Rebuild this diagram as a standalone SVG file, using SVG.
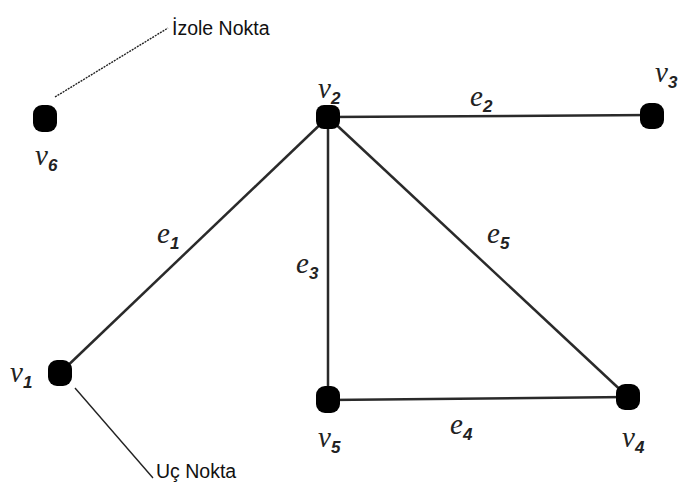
<svg xmlns="http://www.w3.org/2000/svg" width="681" height="496" viewBox="0 0 681 496">
<style>
.edge{stroke:#2a2a2a;stroke-width:2.5;fill:none}
.lead{stroke:#222;stroke-width:1.4;fill:none}
.node{fill:#000}
.vl{font-family:"Liberation Serif",serif;font-style:italic;font-size:29px;fill:#222}
.sub{font-family:"Liberation Sans",sans-serif;font-size:17px;font-weight:bold;fill:#222}
.note{font-family:"Liberation Sans",sans-serif;font-size:19.5px;fill:#111}
</style>
<rect width="681" height="496" fill="#fff"/>
<g id="connectors">
<line class="edge" x1="328" y1="117" x2="652" y2="115"/>
<line class="edge" x1="328" y1="117" x2="60" y2="373"/>
<line class="edge" x1="328" y1="117" x2="328" y2="400"/>
<line class="edge" x1="328" y1="117" x2="628" y2="397"/>
<line class="edge" x1="328" y1="400" x2="628" y2="397"/>
<line class="lead" x1="55" y1="97" x2="168" y2="28" stroke-dasharray="2 1"/>
<line class="lead" x1="75" y1="388" x2="153" y2="478"/>
</g>
<g id="edge-labels">
<text class="vl" x="157" y="243">e<tspan class="sub" dy="6">1</tspan></text>
<text class="vl" x="470" y="106">e<tspan class="sub" dy="6">2</tspan></text>
<text class="vl" x="296" y="273">e<tspan class="sub" dy="6">3</tspan></text>
<text class="vl" x="450" y="434">e<tspan class="sub" dy="6">4</tspan></text>
<text class="vl" x="487" y="243">e<tspan class="sub" dy="6">5</tspan></text>
</g>
<g id="v1"><rect class="node" x="48" y="360" width="24" height="26" rx="9"/><text class="vl" x="10" y="382">v<tspan class="sub" dy="6">1</tspan></text></g>
<g id="v2"><rect class="node" x="316" y="105" width="24" height="24" rx="8"/><text class="vl" x="318" y="98">v<tspan class="sub" dy="6">2</tspan></text></g>
<g id="v3"><rect class="node" x="640" y="103" width="24" height="26" rx="9"/><text class="vl" x="655" y="82">v<tspan class="sub" dy="6">3</tspan></text></g>
<g id="v4"><rect class="node" x="616" y="384" width="24" height="26" rx="9"/><text class="vl" x="622" y="447">v<tspan class="sub" dy="6">4</tspan></text></g>
<g id="v5"><rect class="node" x="316" y="386" width="24" height="27" rx="9"/><text class="vl" x="318" y="447">v<tspan class="sub" dy="6">5</tspan></text></g>
<g id="v6"><rect class="node" x="33" y="105" width="24" height="27" rx="9"/><text class="vl" x="35" y="165">v<tspan class="sub" dy="6">6</tspan></text></g>
<g id="notes">
<text class="note" x="172" y="35">İzole Nokta</text>
<text class="note" x="156" y="478">Uç Nokta</text>
</g>
</svg>
